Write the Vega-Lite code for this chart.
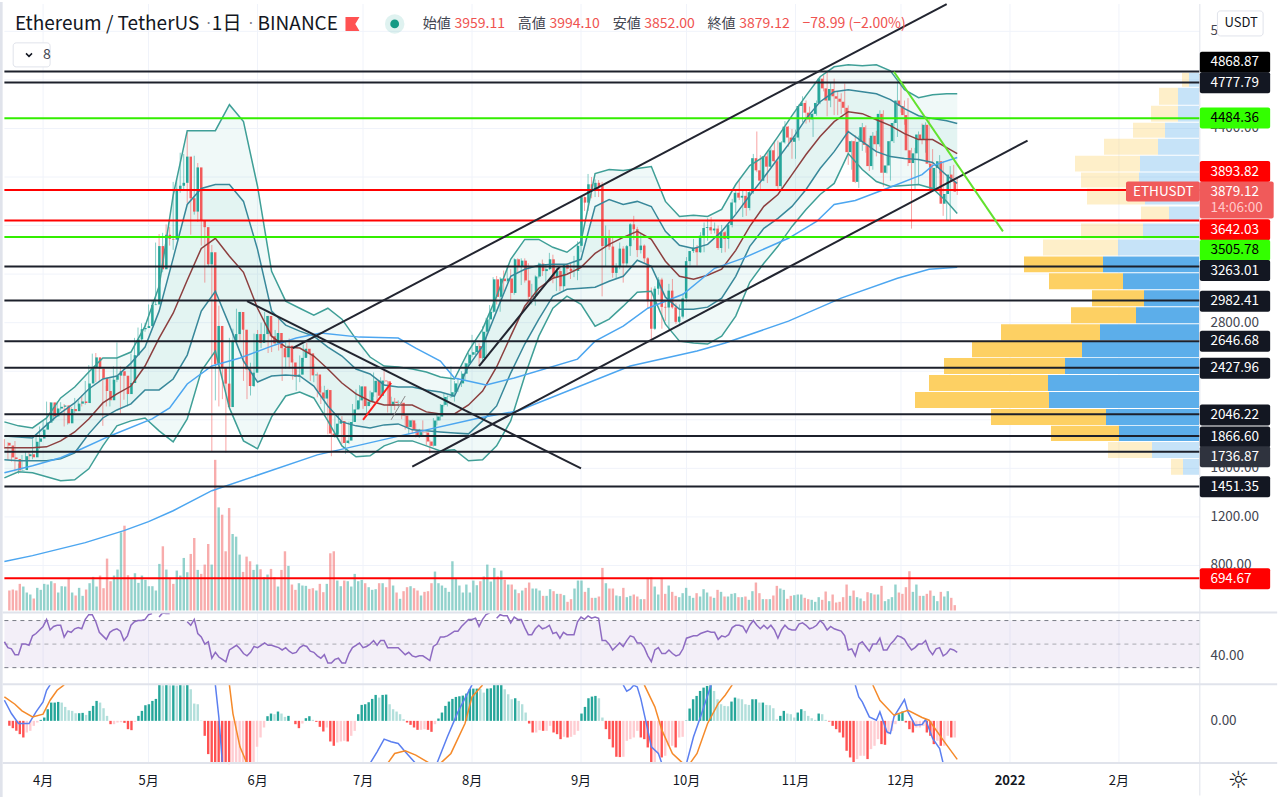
{"$schema":"https://vega.github.io/schema/vega-lite/v6.json","width":1280,"height":797,"padding":0,"autosize":{"type":"fit","contains":"padding"},"background":"#ffffff",
"config":{"view":{"stroke":null},"axis":{"disable":true},"legend":{"disable":true},"text":{"font":"Noto Sans CJK JP"}},
"resolve":{"scale":{"x":"independent","y":"independent","color":"independent"}},
"datasets":{
"one":[{}],
"grid":[{"p":800},{"p":1200},{"p":1600},{"p":2000},{"p":2400},{"p":2800},{"p":3200},{"p":3600},{"p":4000},{"p":4400},{"p":4800},{"p":5200}],
"months":[{"d":"2021-04-01","t":"4月"},{"d":"2021-05-01","t":"5月"},{"d":"2021-06-01","t":"6月"},{"d":"2021-07-01","t":"7月"},{"d":"2021-08-01","t":"8月"},{"d":"2021-09-01","t":"9月"},{"d":"2021-10-01","t":"10月"},{"d":"2021-11-01","t":"11月"},{"d":"2021-12-01","t":"12月"},{"d":"2022-01-01","t":"2022"},{"d":"2022-02-01","t":"2月"}],
"levels":[{"price":4868.87,"k":"black","tag":4946},{"price":4777.79,"k":"black","tag":4776},{"price":4484.36,"k":"green","tag":4486},{"price":3893.82,"k":"red","tag":4045},{"price":3642.03,"k":"red","tag":3566},{"price":3505.78,"k":"green","tag":3396},{"price":3263.01,"k":"black","tag":3229},{"price":2982.41,"k":"black","tag":2977},{"price":2646.68,"k":"black","tag":2646},{"price":2427.96,"k":"black","tag":2424},{"price":2046.22,"k":"black","tag":2040},{"price":1866.6,"k":"black","tag":1859},{"price":1736.87,"k":"black","tag":1695},{"price":1451.35,"k":"black","tag":1448},{"price":694.67,"k":"red","tag":690}],
"vp":[{"hi":4858,"lo":4743,"buy":10,"total":17},{"hi":4735,"lo":4595,"buy":21,"total":40},{"hi":4587,"lo":4456,"buy":21,"total":48},{"hi":4447,"lo":4324,"buy":34,"total":66},{"hi":4316,"lo":4184,"buy":41,"total":95},{"hi":4176,"lo":4045,"buy":59,"total":124},{"hi":4037,"lo":3913,"buy":60,"total":118},{"hi":3905,"lo":3773,"buy":54,"total":112},{"hi":3757,"lo":3634,"buy":30,"total":58},{"hi":3617,"lo":3494,"buy":56,"total":118},{"hi":3486,"lo":3354,"buy":81,"total":156},{"hi":3346,"lo":3215,"buy":96,"total":175},{"hi":3207,"lo":3075,"buy":76,"total":150},{"hi":3067,"lo":2935,"buy":55,"total":107},{"hi":2927,"lo":2796,"buy":63,"total":128},{"hi":2788,"lo":2656,"buy":99,"total":198},{"hi":2640,"lo":2516,"buy":117,"total":227},{"hi":2508,"lo":2377,"buy":134,"total":255},{"hi":2369,"lo":2237,"buy":151,"total":270},{"hi":2229,"lo":2097,"buy":150,"total":284},{"hi":2089,"lo":1958,"buy":93,"total":208},{"hi":1950,"lo":1826,"buy":80,"total":148},{"hi":1818,"lo":1686,"buy":47,"total":91},{"hi":1678,"lo":1547,"buy":16,"total":28}],
"trends":[{"id":"t1","k":"black","d":"2021-06-11","p":2590},{"id":"t1","k":"black","d":"2021-12-14","p":5425},{"id":"t2","k":"black","d":"2021-07-15","p":1615},{"id":"t2","k":"black","d":"2022-01-06","p":4300},{"id":"t3","k":"black","d":"2021-05-29","p":2977},{"id":"t3","k":"black","d":"2021-09-01","p":1599},{"id":"t4","k":"black","d":"2021-08-03","p":2443},{"id":"t4","k":"black","d":"2021-08-26","p":3264},{"id":"t5","k":"red","d":"2021-07-01","p":2000},{"id":"t5","k":"red","d":"2021-07-09","p":2303},{"id":"t6","k":"green","d":"2021-11-29","p":4867},{"id":"t6","k":"green","d":"2021-12-30","p":3552},{"id":"t7","k":"gray","d":"2021-07-09","p":2000},{"id":"t7","k":"gray","d":"2021-07-13","p":2196}],
"mas":[{"n":"a","d":"2021-03-21","p":832},{"n":"a","d":"2021-03-29","p":881},{"n":"a","d":"2021-04-13","p":988},{"n":"a","d":"2021-04-24","p":1087},{"n":"a","d":"2021-05-01","p":1161},{"n":"a","d":"2021-05-08","p":1251},{"n":"a","d":"2021-05-19","p":1416},{"n":"a","d":"2021-06-18","p":1711},{"n":"a","d":"2021-07-09","p":1851},{"n":"a","d":"2021-08-03","p":2015},{"n":"a","d":"2021-08-14","p":2073},{"n":"a","d":"2021-09-15","p":2443},{"n":"a","d":"2021-10-04","p":2566},{"n":"a","d":"2021-10-12","p":2632},{"n":"a","d":"2021-10-30","p":2813},{"n":"a","d":"2021-11-14","p":3002},{"n":"a","d":"2021-11-30","p":3166},{"n":"a","d":"2021-12-09","p":3240},{"n":"a","d":"2021-12-17","p":3256},
{"n":"b","d":"2021-03-21","p":1564},{"n":"b","d":"2021-03-29","p":1621},{"n":"b","d":"2021-04-06","p":1687},{"n":"b","d":"2021-04-12","p":1761},{"n":"b","d":"2021-04-20","p":1867},{"n":"b","d":"2021-05-02","p":2007},{"n":"b","d":"2021-05-07","p":2098},{"n":"b","d":"2021-05-12","p":2295},{"n":"b","d":"2021-05-19","p":2443},{"n":"b","d":"2021-05-27","p":2509},{"n":"b","d":"2021-06-05","p":2607},{"n":"b","d":"2021-06-12","p":2673},{"n":"b","d":"2021-06-19","p":2714},{"n":"b","d":"2021-06-30","p":2681},{"n":"b","d":"2021-07-11","p":2673},{"n":"b","d":"2021-07-16","p":2591},{"n":"b","d":"2021-07-23","p":2484},{"n":"b","d":"2021-07-27","p":2344},{"n":"b","d":"2021-08-05","p":2287},{"n":"b","d":"2021-08-13","p":2344},{"n":"b","d":"2021-08-31","p":2500},{"n":"b","d":"2021-09-05","p":2648},{"n":"b","d":"2021-09-13","p":2771},{"n":"b","d":"2021-09-20","p":2919},{"n":"b","d":"2021-09-30","p":3034},{"n":"b","d":"2021-10-09","p":3248},{"n":"b","d":"2021-10-17","p":3330},{"n":"b","d":"2021-10-30","p":3495},{"n":"b","d":"2021-11-07","p":3634},{"n":"b","d":"2021-11-12","p":3774},{"n":"b","d":"2021-11-18","p":3807},{"n":"b","d":"2021-11-27","p":3905},{"n":"b","d":"2021-12-07","p":4020},{"n":"b","d":"2021-12-10","p":4094},{"n":"b","d":"2021-12-17","p":4160}],
"macd":[{"n":"m","s":1,"d":"2021-03-21","u":62},{"n":"m","s":1,"d":"2021-03-23","u":22},{"n":"m","s":1,"d":"2021-03-25","u":-8},{"n":"m","s":1,"d":"2021-03-28","u":-8},{"n":"m","s":1,"d":"2021-03-30","u":27},{"n":"m","s":1,"d":"2021-04-01","u":57},{"n":"m","s":1,"d":"2021-04-02","u":92},{"n":"m","s":1,"d":"2021-04-03","u":108},
{"n":"o","s":1,"d":"2021-03-21","u":72},{"n":"o","s":1,"d":"2021-03-24","u":50},{"n":"o","s":1,"d":"2021-03-26","u":30},{"n":"o","s":1,"d":"2021-03-29","u":12},{"n":"o","s":1,"d":"2021-04-01","u":20},{"n":"o","s":1,"d":"2021-04-03","u":62},{"n":"o","s":1,"d":"2021-04-05","u":92},{"n":"o","s":1,"d":"2021-04-07","u":108},
{"n":"m","s":2,"d":"2021-05-20","u":108},{"n":"m","s":2,"d":"2021-05-21","u":10},{"n":"m","s":2,"d":"2021-05-22","u":-128},
{"n":"o","s":2,"d":"2021-05-24","u":108},{"n":"o","s":2,"d":"2021-05-25","u":22},{"n":"o","s":2,"d":"2021-05-27","u":-78},{"n":"o","s":2,"d":"2021-05-29","u":-128},
{"n":"m","s":3,"d":"2021-07-03","u":-128},{"n":"m","s":3,"d":"2021-07-05","u":-93},{"n":"m","s":3,"d":"2021-07-07","u":-55},{"n":"m","s":3,"d":"2021-07-09","u":-63},{"n":"m","s":3,"d":"2021-07-11","u":-68},{"n":"m","s":3,"d":"2021-07-13","u":-93},{"n":"m","s":3,"d":"2021-07-16","u":-128},
{"n":"o","s":3,"d":"2021-07-08","u":-128},{"n":"o","s":3,"d":"2021-07-10","u":-98},{"n":"o","s":3,"d":"2021-07-13","u":-90},{"n":"o","s":3,"d":"2021-07-16","u":-103},{"n":"o","s":3,"d":"2021-07-20","u":-128},
{"n":"m","s":4,"d":"2021-07-22","u":-128},{"n":"m","s":4,"d":"2021-07-25","u":-48},{"n":"m","s":4,"d":"2021-07-28","u":27},{"n":"m","s":4,"d":"2021-08-01","u":108},
{"n":"o","s":4,"d":"2021-07-23","u":-128},{"n":"o","s":4,"d":"2021-07-26","u":-98},{"n":"o","s":4,"d":"2021-07-30","u":-8},{"n":"o","s":4,"d":"2021-08-01","u":72},{"n":"o","s":4,"d":"2021-08-04","u":108},
{"n":"m","s":5,"d":"2021-09-13","u":108},{"n":"m","s":5,"d":"2021-09-14","u":89},{"n":"m","s":5,"d":"2021-09-15","u":95},{"n":"m","s":5,"d":"2021-09-16","u":107},{"n":"m","s":5,"d":"2021-09-17","u":102},{"n":"m","s":5,"d":"2021-09-18","u":67},{"n":"m","s":5,"d":"2021-09-20","u":-28},{"n":"m","s":5,"d":"2021-09-21","u":-78},{"n":"m","s":5,"d":"2021-09-23","u":-98},{"n":"m","s":5,"d":"2021-09-24","u":-128},
{"n":"o","s":5,"d":"2021-09-19","u":108},{"n":"o","s":5,"d":"2021-09-22","u":42},{"n":"o","s":5,"d":"2021-09-24","u":-28},{"n":"o","s":5,"d":"2021-09-27","u":-98},{"n":"o","s":5,"d":"2021-09-30","u":-128},
{"n":"m","s":6,"d":"2021-10-01","u":-128},{"n":"m","s":6,"d":"2021-10-03","u":-48},{"n":"m","s":6,"d":"2021-10-05","u":12},{"n":"m","s":6,"d":"2021-10-08","u":108},
{"n":"o","s":6,"d":"2021-10-02","u":-128},{"n":"o","s":6,"d":"2021-10-04","u":-98},{"n":"o","s":6,"d":"2021-10-07","u":-8},{"n":"o","s":6,"d":"2021-10-10","u":52},{"n":"o","s":6,"d":"2021-10-12","u":77},{"n":"o","s":6,"d":"2021-10-14","u":108},
{"n":"m","s":7,"d":"2021-11-18","u":108},{"n":"m","s":7,"d":"2021-11-19","u":72},{"n":"m","s":7,"d":"2021-11-20","u":57},{"n":"m","s":7,"d":"2021-11-22","u":12},{"n":"m","s":7,"d":"2021-11-24","u":2},{"n":"m","s":7,"d":"2021-11-25","u":27},{"n":"m","s":7,"d":"2021-11-27","u":-33},{"n":"m","s":7,"d":"2021-11-28","u":-38},{"n":"m","s":7,"d":"2021-11-29","u":12},{"n":"m","s":7,"d":"2021-12-02","u":64},{"n":"m","s":7,"d":"2021-12-03","u":27},{"n":"m","s":7,"d":"2021-12-05","u":-13},{"n":"m","s":7,"d":"2021-12-07","u":-11},{"n":"m","s":7,"d":"2021-12-08","u":4},{"n":"m","s":7,"d":"2021-12-10","u":-53},{"n":"m","s":7,"d":"2021-12-12","u":-83},{"n":"m","s":7,"d":"2021-12-13","u":-128},
{"n":"o","s":7,"d":"2021-11-23","u":108},{"n":"o","s":7,"d":"2021-11-25","u":62},{"n":"o","s":7,"d":"2021-11-29","u":17},{"n":"o","s":7,"d":"2021-12-03","u":32},{"n":"o","s":7,"d":"2021-12-07","u":10},{"n":"o","s":7,"d":"2021-12-09","u":2},{"n":"o","s":7,"d":"2021-12-13","u":-58},{"n":"o","s":7,"d":"2021-12-17","u":-116}],
"bands":[{"d":"2021-03-21","ou":1983,"iu":1867,"mid":1769,"il":1670,"ol":1522},{"d":"2021-03-25","ou":1950,"iu":1859,"mid":1769,"il":1662,"ol":1572},{"d":"2021-03-29","ou":1933,"iu":1851,"mid":1769,"il":1662,"ol":1564},{"d":"2021-04-02","ou":2015,"iu":1958,"mid":1777,"il":1662,"ol":1531},{"d":"2021-04-06","ou":2180,"iu":2057,"mid":1826,"il":1679,"ol":1498},{"d":"2021-04-10","ou":2270,"iu":2139,"mid":1900,"il":1728,"ol":1506},{"d":"2021-04-14","ou":2393,"iu":2254,"mid":2007,"il":1884,"ol":1596},{"d":"2021-04-18","ou":2509,"iu":2336,"mid":2139,"il":2015,"ol":1785},{"d":"2021-04-22","ou":2509,"iu":2361,"mid":2213,"il":2081,"ol":1950},{"d":"2021-04-26","ou":2558,"iu":2467,"mid":2278,"il":2131,"ol":1991},{"d":"2021-04-30","ou":2771,"iu":2599,"mid":2443,"il":2246,"ol":2015},{"d":"2021-05-04","ou":3100,"iu":2895,"mid":2673,"il":2246,"ol":1909},{"d":"2021-05-08","ou":3848,"iu":3330,"mid":2878,"il":2336,"ol":1818},{"d":"2021-05-12","ou":4382,"iu":3774,"mid":3149,"il":2533,"ol":2007},{"d":"2021-05-16","ou":4382,"iu":3905,"mid":3412,"il":2895,"ol":2402},{"d":"2021-05-20","ou":4382,"iu":3938,"mid":3495,"il":3059,"ol":2566},{"d":"2021-05-24","ou":4596,"iu":3938,"mid":3347,"il":2780,"ol":2098},{"d":"2021-05-28","ou":4456,"iu":3799,"mid":3215,"il":2484,"ol":1826},{"d":"2021-06-01","ou":3922,"iu":3404,"mid":2919,"il":2311,"ol":1761},{"d":"2021-06-05","ou":3223,"iu":2895,"mid":2689,"il":2361,"ol":2024},{"d":"2021-06-09","ou":2977,"iu":2780,"mid":2599,"il":2369,"ol":2196},{"d":"2021-06-13","ou":2919,"iu":2730,"mid":2591,"il":2361,"ol":2229},{"d":"2021-06-17","ou":2862,"iu":2689,"mid":2525,"il":2278,"ol":2180},{"d":"2021-06-21","ou":2919,"iu":2599,"mid":2418,"il":2114,"ol":1991},{"d":"2021-06-25","ou":2829,"iu":2525,"mid":2303,"il":1983,"ol":1785},{"d":"2021-06-29","ou":2665,"iu":2418,"mid":2213,"il":1950,"ol":1695},{"d":"2021-07-03","ou":2517,"iu":2377,"mid":2155,"il":1933,"ol":1703},{"d":"2021-07-07","ou":2443,"iu":2287,"mid":2122,"il":1958,"ol":1785},{"d":"2021-07-11","ou":2435,"iu":2270,"mid":2122,"il":1966,"ol":1826},{"d":"2021-07-15","ou":2418,"iu":2270,"mid":2122,"il":1917,"ol":1826},{"d":"2021-07-19","ou":2393,"iu":2246,"mid":2065,"il":1909,"ol":1785},{"d":"2021-07-23","ou":2352,"iu":2229,"mid":2048,"il":1900,"ol":1744},{"d":"2021-07-27","ou":2336,"iu":2196,"mid":2048,"il":1892,"ol":1753},{"d":"2021-07-31","ou":2566,"iu":2443,"mid":2122,"il":1884,"ol":1662},{"d":"2021-08-04","ou":2747,"iu":2607,"mid":2237,"il":1991,"ol":1670},{"d":"2021-08-08","ou":3018,"iu":2895,"mid":2435,"il":2114,"ol":1785},{"d":"2021-08-12","ou":3322,"iu":3182,"mid":2689,"il":2385,"ol":1991},{"d":"2021-08-16","ou":3486,"iu":3240,"mid":2936,"il":2624,"ol":2361},{"d":"2021-08-20","ou":3486,"iu":3273,"mid":3084,"il":2829,"ol":2689},{"d":"2021-08-24","ou":3421,"iu":3281,"mid":3166,"il":3018,"ol":2919},{"d":"2021-08-28","ou":3380,"iu":3281,"mid":3199,"il":3075,"ol":3018},{"d":"2021-09-01","ou":3470,"iu":3322,"mid":3256,"il":3084,"ol":2952},{"d":"2021-09-05","ou":4029,"iu":3757,"mid":3371,"il":3092,"ol":2771},{"d":"2021-09-09","ou":4062,"iu":3815,"mid":3445,"il":3141,"ol":2829},{"d":"2021-09-13","ou":4053,"iu":3774,"mid":3503,"il":3182,"ol":2936},{"d":"2021-09-17","ou":4070,"iu":3799,"mid":3552,"il":3314,"ol":3051},{"d":"2021-09-21","ou":4086,"iu":3757,"mid":3486,"il":3264,"ol":3059},{"d":"2021-09-25","ou":3799,"iu":3552,"mid":3306,"il":3010,"ol":2788},{"d":"2021-09-29","ou":3675,"iu":3437,"mid":3182,"il":2911,"ol":2648},{"d":"2021-10-03","ou":3684,"iu":3412,"mid":3158,"il":2911,"ol":2632},{"d":"2021-10-07","ou":3675,"iu":3445,"mid":3191,"il":2928,"ol":2624},{"d":"2021-10-11","ou":3733,"iu":3552,"mid":3240,"il":3002,"ol":2689},{"d":"2021-10-15","ou":3938,"iu":3692,"mid":3396,"il":3182,"ol":2854},{"d":"2021-10-19","ou":4094,"iu":3848,"mid":3593,"il":3429,"ol":3133},{"d":"2021-10-23","ou":4168,"iu":3996,"mid":3758,"il":3577,"ol":3289},{"d":"2021-10-27","ou":4333,"iu":4152,"mid":3856,"il":3659,"ol":3429},{"d":"2021-10-31","ou":4505,"iu":4308,"mid":4020,"il":3758,"ol":3593},{"d":"2021-11-04","ou":4670,"iu":4481,"mid":4185,"il":3897,"ol":3733},{"d":"2021-11-08","ou":4826,"iu":4620,"mid":4333,"il":4070,"ol":3856},{"d":"2021-11-12","ou":4908,"iu":4702,"mid":4456,"il":4209,"ol":3947},{"d":"2021-11-16","ou":4924,"iu":4719,"mid":4538,"il":4374,"ol":4193},{"d":"2021-11-20","ou":4916,"iu":4702,"mid":4522,"il":4292,"ol":4062},{"d":"2021-11-24","ou":4924,"iu":4686,"mid":4472,"il":4209,"ol":3963},{"d":"2021-11-28","ou":4875,"iu":4637,"mid":4423,"il":4168,"ol":3922},{"d":"2021-12-02","ou":4719,"iu":4563,"mid":4357,"il":4152,"ol":3930},{"d":"2021-12-06","ou":4653,"iu":4505,"mid":4308,"il":4144,"ol":3938},{"d":"2021-12-10","ou":4678,"iu":4481,"mid":4308,"il":4119,"ol":3905},{"d":"2021-12-14","ou":4686,"iu":4464,"mid":4242,"il":4012,"ol":3799},{"d":"2021-12-17","ou":4686,"iu":4440,"mid":4193,"il":3947,"ol":3700}],
"labels":[{"g":"title","t":"Ethereum / TetherUS","d":"2021-03-24","p":5261},{"g":"dot","t":"·","d":"2021-05-17","p":5261},{"g":"title","t":"1日","d":"2021-05-19","p":5261},{"g":"dot","t":"·","d":"2021-05-29","p":5261},{"g":"title","t":"BINANCE","d":"2021-06-01","p":5261},
{"g":"stat","t":"始値","d":"2021-07-18","p":5261},{"g":"val","t":"3959.11","d":"2021-07-27","p":5261},{"g":"stat","t":"高値","d":"2021-08-14","p":5261},{"g":"val","t":"3994.10","d":"2021-08-23","p":5261},{"g":"stat","t":"安値","d":"2021-09-10","p":5261},{"g":"val","t":"3852.00","d":"2021-09-19","p":5261},{"g":"stat","t":"終値","d":"2021-10-07","p":5261},{"g":"val","t":"3879.12","d":"2021-10-16","p":5261},{"g":"val","t":"−78.99 (−2.00%)","d":"2021-11-03","p":5261},{"g":"stat","t":"8","d":"2021-04-01","p":5006}],
"days":[
{"d":"2021-03-21","o":1810,"h":1840,"l":1762,"c":1788,"v":60,"r":52,"m":-15},{"d":"2021-03-22","o":1788,"h":1815,"l":1668,"c":1690,"v":63,"r":47,"m":-22},{"d":"2021-03-23","o":1690,"h":1725,"l":1655,"c":1677,"v":60,"r":46,"m":-30},{"d":"2021-03-24","o":1677,"h":1825,"l":1575,"c":1583,"v":80,"r":41,"m":-40},{"d":"2021-03-25","o":1583,"h":1640,"l":1555,"c":1586,"v":72,"r":41,"m":-50},{"d":"2021-03-26","o":1586,"h":1710,"l":1580,"c":1700,"v":54,"r":50,"m":-35},{"d":"2021-03-27","o":1700,"h":1740,"l":1665,"c":1716,"v":48,"r":50,"m":-30},{"d":"2021-03-28","o":1716,"h":1730,"l":1670,"c":1691,"v":36,"r":49,"m":-15},{"d":"2021-03-29","o":1691,"h":1840,"l":1675,"c":1819,"v":68,"r":57,"m":-5},{"d":"2021-03-30","o":1819,"h":1860,"l":1775,"c":1846,"v":62,"r":59,"m":3},{"d":"2021-03-31","o":1846,"h":1945,"l":1760,"c":1919,"v":80,"r":62,"m":10},
{"d":"2021-04-01","o":1919,"h":1990,"l":1900,"c":1977,"v":78,"r":65,"m":35},{"d":"2021-04-02","o":1977,"h":2150,"l":1960,"c":2143,"v":88,"r":71,"m":55},{"d":"2021-04-03","o":2143,"h":2145,"l":2010,"c":2028,"v":82,"r":62,"m":55},{"d":"2021-04-04","o":2028,"h":2100,"l":1990,"c":2093,"v":54,"r":65,"m":57},{"d":"2021-04-05","o":2093,"h":2150,"l":2050,"c":2107,"v":73,"r":66,"m":55},{"d":"2021-04-06","o":2107,"h":2145,"l":2075,"c":2118,"v":72,"r":66,"m":42},{"d":"2021-04-07","o":2118,"h":2130,"l":1945,"c":1971,"v":98,"r":56,"m":32},{"d":"2021-04-08","o":1971,"h":2100,"l":1960,"c":2089,"v":54,"r":61,"m":30},{"d":"2021-04-09","o":2089,"h":2105,"l":2055,"c":2071,"v":45,"r":60,"m":23},{"d":"2021-04-10","o":2071,"h":2180,"l":2055,"c":2133,"v":68,"r":63,"m":23},{"d":"2021-04-11","o":2133,"h":2160,"l":2110,"c":2151,"v":44,"r":64,"m":24},{"d":"2021-04-12","o":2151,"h":2200,"l":2110,"c":2138,"v":63,"r":63,"m":18},{"d":"2021-04-13","o":2138,"h":2320,"l":2125,"c":2299,"v":82,"r":71,"m":30},{"d":"2021-04-14","o":2299,"h":2450,"l":2265,"c":2432,"v":101,"r":75,"m":45},{"d":"2021-04-15","o":2432,"h":2545,"l":2400,"c":2514,"v":72,"r":75,"m":60},{"d":"2021-04-16","o":2514,"h":2550,"l":2310,"c":2422,"v":105,"r":69,"m":55},{"d":"2021-04-17","o":2422,"h":2495,"l":2310,"c":2345,"v":67,"r":60,"m":38},{"d":"2021-04-18","o":2345,"h":2355,"l":1950,"c":2237,"v":156,"r":57,"m":15},{"d":"2021-04-19","o":2237,"h":2280,"l":2110,"c":2161,"v":88,"r":54,"m":-10},{"d":"2021-04-20","o":2161,"h":2340,"l":2110,"c":2330,"v":105,"r":60,"m":-10},{"d":"2021-04-21","o":2330,"h":2440,"l":2295,"c":2364,"v":123,"r":62,"m":-5},{"d":"2021-04-22","o":2364,"h":2637,"l":2310,"c":2400,"v":235,"r":63,"m":-4},{"d":"2021-04-23","o":2400,"h":2440,"l":2050,"c":2363,"v":255,"r":61,"m":-6},{"d":"2021-04-24","o":2363,"h":2375,"l":2165,"c":2212,"v":106,"r":53,"m":-25},{"d":"2021-04-25","o":2212,"h":2355,"l":2110,"c":2303,"v":98,"r":57,"m":-28},{"d":"2021-04-26","o":2303,"h":2545,"l":2295,"c":2532,"v":112,"r":66,"m":-3},{"d":"2021-04-27","o":2532,"h":2675,"l":2500,"c":2662,"v":83,"r":69,"m":15},{"d":"2021-04-28","o":2662,"h":2760,"l":2575,"c":2746,"v":105,"r":70,"m":30},{"d":"2021-04-29","o":2746,"h":2795,"l":2645,"c":2756,"v":92,"r":70,"m":47},{"d":"2021-04-30","o":2756,"h":2798,"l":2725,"c":2772,"v":73,"r":71,"m":50},
{"d":"2021-05-01","o":2772,"h":2950,"l":2760,"c":2945,"v":73,"r":75,"m":60},{"d":"2021-05-02","o":2945,"h":2985,"l":2850,"c":2950,"v":60,"r":76,"m":66},{"d":"2021-05-03","o":2950,"h":3460,"l":2945,"c":3431,"v":140,"m":108},{"d":"2021-05-04","o":3431,"h":3530,"l":3160,"c":3240,"v":193,"r":73,"m":107},{"d":"2021-05-05","o":3240,"h":3540,"l":3215,"c":3524,"v":123,"r":76.5,"m":108},{"d":"2021-05-06","o":3524,"h":3610,"l":3360,"c":3490,"v":98,"r":76,"m":107},{"d":"2021-05-07","o":3490,"h":3590,"l":3435,"c":3484,"v":80,"r":76,"m":107},{"d":"2021-05-08","o":3484,"h":3960,"l":3400,"c":3902,"v":120,"m":106},{"d":"2021-05-09","o":3902,"h":3985,"l":3725,"c":3928,"v":105,"m":108},{"d":"2021-05-10","o":3928,"h":4200,"l":3870,"c":3952,"v":158,"m":107},{"d":"2021-05-11","o":3952,"h":4190,"l":3890,"c":4168,"v":115,"m":108},{"d":"2021-05-12","o":4168,"h":4372,"l":3785,"c":3825,"v":170,"r":69,"m":95},{"d":"2021-05-13","o":3825,"h":4150,"l":3525,"c":3715,"v":218,"r":66,"m":52},{"d":"2021-05-14","o":3715,"h":4175,"l":3690,"c":4079,"v":122,"r":71,"m":50},{"d":"2021-05-15","o":4079,"h":4115,"l":3630,"c":3640,"v":110,"r":59,"m":1},{"d":"2021-05-16","o":3640,"h":3885,"l":3435,"c":3587,"v":138,"r":56,"m":-45},{"d":"2021-05-17","o":3587,"h":3590,"l":3130,"c":3281,"v":200,"r":50,"m":-100},{"d":"2021-05-18","o":3281,"h":3565,"l":3265,"c":3380,"v":138,"r":52,"m":-125},{"d":"2021-05-19","o":3380,"h":3440,"l":1736,"c":2460,"v":453,"r":38,"m":-126},{"d":"2021-05-20","o":2460,"h":2975,"l":2160,"c":2773,"v":310,"r":43,"m":-127},{"d":"2021-05-21","o":2773,"h":2940,"l":2110,"c":2430,"v":288,"r":39,"m":-128},{"d":"2021-05-22","o":2430,"h":2490,"l":2170,"c":2298,"v":178,"r":37,"m":-129},{"d":"2021-05-23","o":2298,"h":2380,"l":1730,"c":2105,"v":308,"r":35,"m":-130},{"d":"2021-05-24","o":2105,"h":2675,"l":2100,"c":2643,"v":230,"r":45,"m":-129},{"d":"2021-05-25","o":2643,"h":2750,"l":2395,"c":2706,"v":222,"r":47,"m":-128},{"d":"2021-05-26","o":2706,"h":2915,"l":2680,"c":2888,"v":168,"r":49,"m":-127},{"d":"2021-05-27","o":2888,"h":2890,"l":2650,"c":2742,"v":116,"r":46,"m":-126},{"d":"2021-05-28","o":2742,"h":2760,"l":2320,"c":2415,"v":162,"r":42,"m":-127},{"d":"2021-05-29","o":2415,"h":2470,"l":2170,"c":2278,"v":148,"r":40,"m":-128},{"d":"2021-05-30","o":2278,"h":2470,"l":2200,"c":2388,"v":122,"r":43,"m":-127},{"d":"2021-05-31","o":2388,"h":2710,"l":2270,"c":2706,"v":138,"r":48,"m":-78},
{"d":"2021-06-01","o":2706,"h":2740,"l":2530,"c":2634,"v":124,"r":47,"m":-50},{"d":"2021-06-02","o":2634,"h":2800,"l":2590,"c":2706,"v":100,"r":49,"m":-20},{"d":"2021-06-03","o":2706,"h":2890,"l":2700,"c":2855,"v":108,"r":51,"m":14},{"d":"2021-06-04","o":2855,"h":2858,"l":2550,"c":2688,"v":125,"r":49,"m":22},{"d":"2021-06-05","o":2688,"h":2815,"l":2558,"c":2630,"v":100,"r":49,"m":20},{"d":"2021-06-06","o":2630,"h":2740,"l":2615,"c":2715,"v":72,"r":48,"m":28},{"d":"2021-06-07","o":2715,"h":2845,"l":2570,"c":2590,"v":122,"r":47,"m":22},{"d":"2021-06-08","o":2590,"h":2620,"l":2320,"c":2515,"v":178,"r":45,"m":12},{"d":"2021-06-09","o":2515,"h":2640,"l":2420,"c":2610,"v":134,"r":47,"m":15},{"d":"2021-06-10","o":2610,"h":2670,"l":2420,"c":2472,"v":78,"r":44,"m":0},{"d":"2021-06-11","o":2472,"h":2500,"l":2330,"c":2354,"v":62,"r":42,"m":-10},{"d":"2021-06-12","o":2354,"h":2410,"l":2240,"c":2372,"v":82,"r":43,"m":-22},{"d":"2021-06-13","o":2372,"h":2530,"l":2310,"c":2510,"v":75,"r":47,"m":-8},{"d":"2021-06-14","o":2510,"h":2620,"l":2475,"c":2585,"v":74,"r":49,"m":8},{"d":"2021-06-15","o":2585,"h":2635,"l":2520,"c":2547,"v":65,"r":48,"m":14},{"d":"2021-06-16","o":2547,"h":2555,"l":2320,"c":2366,"v":67,"r":44,"m":3},{"d":"2021-06-17","o":2366,"h":2460,"l":2310,"c":2373,"v":60,"r":43,"m":-3},{"d":"2021-06-18","o":2373,"h":2390,"l":2185,"c":2225,"v":80,"r":40,"m":-18},{"d":"2021-06-19","o":2225,"h":2275,"l":2130,"c":2175,"v":55,"r":38,"m":-32},{"d":"2021-06-20","o":2175,"h":2280,"l":2040,"c":2245,"v":80,"r":41,"m":-20},{"d":"2021-06-21","o":2245,"h":2255,"l":1880,"c":1887,"v":172,"r":34,"m":-62},{"d":"2021-06-22","o":1887,"h":2040,"l":1700,"c":1875,"v":178,"r":34,"m":-75},{"d":"2021-06-23","o":1875,"h":2045,"l":1850,"c":1968,"v":90,"r":37,"m":-65},{"d":"2021-06-24","o":1968,"h":2040,"l":1885,"c":1990,"v":73,"r":38,"m":-62},{"d":"2021-06-25","o":1990,"h":2030,"l":1800,"c":1809,"v":90,"r":34,"m":-60},{"d":"2021-06-26","o":1809,"h":1865,"l":1720,"c":1829,"v":88,"r":34,"m":-62},{"d":"2021-06-27","o":1829,"h":1985,"l":1800,"c":1982,"v":72,"r":42,"m":-45},{"d":"2021-06-28","o":1982,"h":2130,"l":1965,"c":2085,"v":110,"r":47,"m":-30},{"d":"2021-06-29","o":2085,"h":2250,"l":2080,"c":2160,"v":88,"r":49,"m":20},{"d":"2021-06-30","o":2160,"h":2285,"l":2095,"c":2275,"v":92,"r":51,"m":48},
{"d":"2021-07-01","o":2275,"h":2275,"l":2090,"c":2113,"v":82,"r":47,"m":50},{"d":"2021-07-02","o":2113,"h":2165,"l":2030,"c":2150,"v":70,"r":48,"m":56},{"d":"2021-07-03","o":2150,"h":2240,"l":2130,"c":2226,"v":62,"r":50,"m":66},{"d":"2021-07-04","o":2226,"h":2390,"l":2190,"c":2321,"v":64,"r":53,"m":78},{"d":"2021-07-05","o":2321,"h":2325,"l":2160,"c":2198,"v":82,"r":49,"m":70},{"d":"2021-07-06","o":2198,"h":2350,"l":2190,"c":2323,"v":82,"r":53,"m":78},{"d":"2021-07-07","o":2323,"h":2410,"l":2300,"c":2317,"v":70,"r":53,"m":79},{"d":"2021-07-08","o":2317,"h":2320,"l":2060,"c":2117,"v":95,"r":47,"m":50},{"d":"2021-07-09","o":2117,"h":2190,"l":2050,"c":2149,"v":75,"r":47,"m":35},{"d":"2021-07-10","o":2149,"h":2180,"l":2080,"c":2138,"v":54,"r":47,"m":28},{"d":"2021-07-11","o":2138,"h":2160,"l":2110,"c":2140,"v":35,"r":47,"m":20},{"d":"2021-07-12","o":2140,"h":2150,"l":2005,"c":2035,"v":58,"r":44,"m":5},{"d":"2021-07-13","o":2035,"h":2040,"l":1920,"c":1940,"v":70,"r":41,"m":-5},{"d":"2021-07-14","o":1940,"h":2000,"l":1880,"c":1995,"v":73,"r":43,"m":-12},{"d":"2021-07-15","o":1995,"h":2000,"l":1890,"c":1916,"v":67,"r":40,"m":-20},{"d":"2021-07-16","o":1916,"h":1970,"l":1855,"c":1875,"v":60,"r":39,"m":-27},{"d":"2021-07-17","o":1875,"h":1925,"l":1850,"c":1898,"v":45,"r":40,"m":-27},{"d":"2021-07-18","o":1898,"h":1995,"l":1870,"c":1895,"v":56,"r":40,"m":-25},{"d":"2021-07-19","o":1895,"h":1900,"l":1790,"c":1821,"v":58,"r":38,"m":-27},{"d":"2021-07-20","o":1821,"h":1835,"l":1720,"c":1786,"v":82,"r":36,"m":-33},{"d":"2021-07-21","o":1786,"h":2015,"l":1780,"c":1994,"v":117,"r":48,"m":-10},{"d":"2021-07-22","o":1994,"h":2045,"l":1955,"c":2027,"v":82,"r":50,"m":7},{"d":"2021-07-23","o":2027,"h":2130,"l":1995,"c":2123,"v":75,"r":56,"m":25},{"d":"2021-07-24","o":2123,"h":2215,"l":2110,"c":2188,"v":68,"r":56,"m":45},{"d":"2021-07-25","o":2188,"h":2200,"l":2110,"c":2190,"v":56,"r":57,"m":58},{"d":"2021-07-26","o":2190,"h":2440,"l":2180,"c":2227,"v":148,"r":59,"m":66},{"d":"2021-07-27","o":2227,"h":2320,"l":2150,"c":2300,"v":95,"r":61,"m":72},{"d":"2021-07-28","o":2300,"h":2345,"l":2230,"c":2300,"v":75,"r":61,"m":74},{"d":"2021-07-29","o":2300,"h":2400,"l":2270,"c":2380,"v":54,"r":65,"m":76},{"d":"2021-07-30","o":2380,"h":2470,"l":2330,"c":2465,"v":78,"r":68,"m":82},{"d":"2021-07-31","o":2465,"h":2550,"l":2440,"c":2536,"v":54,"r":71,"m":96},
{"d":"2021-08-01","o":2536,"h":2700,"l":2515,"c":2557,"v":90,"r":71,"m":97},{"d":"2021-08-02","o":2557,"h":2665,"l":2530,"c":2608,"v":76,"r":72,"m":97},{"d":"2021-08-03","o":2608,"h":2630,"l":2450,"c":2508,"v":88,"r":65,"m":96},{"d":"2021-08-04","o":2508,"h":2770,"l":2475,"c":2725,"v":102,"r":71,"m":85},{"d":"2021-08-05","o":2725,"h":2840,"l":2525,"c":2827,"v":138,"r":75,"m":97},{"d":"2021-08-06","o":2827,"h":2945,"l":2735,"c":2890,"v":87,"r":76.5,"m":98},{"d":"2021-08-07","o":2890,"h":3175,"l":2880,"c":3157,"v":128,"m":108},{"d":"2021-08-08","o":3157,"h":3185,"l":2950,"c":3013,"v":102,"r":72,"m":108},{"d":"2021-08-09","o":3013,"h":3175,"l":2890,"c":3163,"v":120,"r":75,"m":108},{"d":"2021-08-10","o":3163,"h":3230,"l":3055,"c":3142,"v":92,"r":74,"m":95},{"d":"2021-08-11","o":3142,"h":3275,"l":3130,"c":3164,"v":78,"r":74,"m":80},{"d":"2021-08-12","o":3164,"h":3240,"l":2980,"c":3045,"v":78,"r":68,"m":65},{"d":"2021-08-13","o":3045,"h":3330,"l":3030,"c":3322,"v":63,"r":73,"m":68},{"d":"2021-08-14","o":3322,"h":3330,"l":3210,"c":3265,"v":52,"r":71,"m":60},{"d":"2021-08-15","o":3265,"h":3330,"l":3110,"c":3311,"v":60,"r":71,"m":50},{"d":"2021-08-16","o":3311,"h":3330,"l":3130,"c":3148,"v":68,"r":64,"m":25},{"d":"2021-08-17","o":3148,"h":3290,"l":2985,"c":3013,"v":84,"r":58,"m":-8},{"d":"2021-08-18","o":3013,"h":3120,"l":2950,"c":3022,"v":66,"r":58,"m":-35},{"d":"2021-08-19","o":3022,"h":3190,"l":2940,"c":3180,"v":66,"r":63,"m":-35},{"d":"2021-08-20","o":3180,"h":3295,"l":3165,"c":3287,"v":60,"r":66,"m":-28},{"d":"2021-08-21","o":3287,"h":3320,"l":3185,"c":3225,"v":44,"r":63,"m":-30},{"d":"2021-08-22","o":3225,"h":3280,"l":3115,"c":3241,"v":44,"r":64,"m":-30},{"d":"2021-08-23","o":3241,"h":3375,"l":3235,"c":3322,"v":64,"r":66,"m":-15},{"d":"2021-08-24","o":3322,"h":3360,"l":3125,"c":3173,"v":58,"r":59,"m":-35},{"d":"2021-08-25","o":3173,"h":3250,"l":3060,"c":3225,"v":50,"r":60,"m":-40},{"d":"2021-08-26","o":3225,"h":3250,"l":3060,"c":3100,"v":50,"r":55,"m":-55},{"d":"2021-08-27","o":3100,"h":3280,"l":3060,"c":3275,"v":46,"r":60,"m":-48},{"d":"2021-08-28","o":3275,"h":3290,"l":3210,"c":3245,"v":26,"r":58,"m":-50},{"d":"2021-08-29","o":3245,"h":3285,"l":3160,"c":3225,"v":34,"r":58,"m":-48},{"d":"2021-08-30","o":3225,"h":3350,"l":3175,"c":3226,"v":66,"r":58,"m":-42},{"d":"2021-08-31","o":3226,"h":3470,"l":3150,"c":3433,"v":90,"r":69,"m":-30},
{"d":"2021-09-01","o":3433,"h":3840,"l":3380,"c":3834,"v":90,"r":73,"m":22},{"d":"2021-09-02","o":3834,"h":3840,"l":3720,"c":3789,"v":56,"r":71,"m":42},{"d":"2021-09-03","o":3789,"h":4025,"l":3720,"c":3940,"v":68,"r":74,"m":68},{"d":"2021-09-04","o":3940,"h":4000,"l":3825,"c":3887,"v":38,"r":72,"m":73},{"d":"2021-09-05","o":3887,"h":3980,"l":3835,"c":3952,"v":38,"r":73,"m":75},{"d":"2021-09-06","o":3952,"h":3975,"l":3835,"c":3926,"v":42,"r":72,"m":68},{"d":"2021-09-07","o":3926,"h":3960,"l":3017,"c":3431,"v":128,"r":53,"m":10},{"d":"2021-09-08","o":3431,"h":3600,"l":3265,"c":3497,"v":82,"r":53,"m":-25},{"d":"2021-09-09","o":3497,"h":3565,"l":3400,"c":3427,"v":66,"r":50,"m":-55},{"d":"2021-09-10","o":3427,"h":3510,"l":3170,"c":3210,"v":66,"r":45,"m":-80},{"d":"2021-09-11","o":3210,"h":3290,"l":3160,"c":3265,"v":45,"r":48,"m":-108},{"d":"2021-09-12","o":3265,"h":3460,"l":3240,"c":3410,"v":43,"r":51,"m":-109},{"d":"2021-09-13","o":3410,"h":3430,"l":3130,"c":3288,"v":68,"r":48,"m":-108},{"d":"2021-09-14","o":3288,"h":3440,"l":3260,"c":3430,"v":40,"r":53,"m":-60},{"d":"2021-09-15","o":3430,"h":3620,"l":3350,"c":3610,"v":44,"r":57,"m":-55},{"d":"2021-09-16","o":3610,"h":3680,"l":3480,"c":3570,"v":48,"r":56,"m":-50},{"d":"2021-09-17","o":3570,"h":3590,"l":3340,"c":3398,"v":42,"r":51,"m":-30},{"d":"2021-09-18","o":3398,"h":3540,"l":3370,"c":3435,"v":34,"r":51,"m":-50},{"d":"2021-09-19","o":3435,"h":3445,"l":3290,"c":3330,"v":34,"r":47,"m":-55},{"d":"2021-09-20","o":3330,"h":3340,"l":2915,"c":2977,"v":98,"r":40,"m":-80},{"d":"2021-09-21","o":2977,"h":3090,"l":2650,"c":2750,"v":100,"r":35,"m":-128},{"d":"2021-09-22","o":2750,"h":3100,"l":2740,"c":3080,"v":72,"r":45,"m":-127},{"d":"2021-09-23","o":3080,"h":3175,"l":3030,"c":3155,"v":48,"r":47,"m":-100},{"d":"2021-09-24","o":3155,"h":3170,"l":2750,"c":2930,"v":98,"r":42,"m":-110},{"d":"2021-09-25","o":2930,"h":2975,"l":2815,"c":2925,"v":50,"r":42,"m":-105},{"d":"2021-09-26","o":2925,"h":3120,"l":2740,"c":3064,"v":75,"r":45,"m":-75},{"d":"2021-09-27","o":3064,"h":3160,"l":2915,"c":2926,"v":56,"r":42,"m":-75},{"d":"2021-09-28","o":2926,"h":2960,"l":2790,"c":2807,"v":44,"r":40,"m":-80},{"d":"2021-09-29","o":2807,"h":2950,"l":2790,"c":2850,"v":40,"r":41,"m":-50},{"d":"2021-09-30","o":2850,"h":3040,"l":2835,"c":3000,"v":52,"r":46,"m":-48},
{"d":"2021-10-01","o":3000,"h":3340,"l":2970,"c":3307,"v":68,"r":55,"m":1},{"d":"2021-10-02","o":3307,"h":3390,"l":3270,"c":3390,"v":44,"r":56,"m":37},{"d":"2021-10-03","o":3390,"h":3490,"l":3375,"c":3418,"v":38,"r":57,"m":65},{"d":"2021-10-04","o":3418,"h":3440,"l":3270,"c":3380,"v":52,"r":57,"m":75},{"d":"2021-10-05","o":3380,"h":3545,"l":3375,"c":3517,"v":42,"r":59,"m":90},{"d":"2021-10-06","o":3517,"h":3625,"l":3380,"c":3580,"v":64,"r":60,"m":100},{"d":"2021-10-07","o":3580,"h":3660,"l":3475,"c":3587,"v":54,"r":61,"m":105},{"d":"2021-10-08","o":3587,"h":3670,"l":3530,"c":3560,"v":42,"r":60,"m":108},{"d":"2021-10-09","o":3560,"h":3625,"l":3535,"c":3575,"v":38,"r":60,"m":90},{"d":"2021-10-10","o":3575,"h":3600,"l":3400,"c":3415,"v":62,"r":54,"m":65},{"d":"2021-10-11","o":3415,"h":3605,"l":3375,"c":3545,"v":56,"r":57,"m":50},{"d":"2021-10-12","o":3545,"h":3555,"l":3380,"c":3490,"v":42,"r":56,"m":45},{"d":"2021-10-13","o":3490,"h":3625,"l":3410,"c":3605,"v":42,"r":58,"m":44},{"d":"2021-10-14","o":3605,"h":3820,"l":3585,"c":3790,"v":50,"r":64,"m":58},{"d":"2021-10-15","o":3790,"h":3900,"l":3700,"c":3870,"v":52,"r":66,"m":70},{"d":"2021-10-16","o":3870,"h":3970,"l":3810,"c":3830,"v":40,"r":66,"m":67},{"d":"2021-10-17","o":3830,"h":3900,"l":3670,"c":3845,"v":40,"r":65,"m":65},{"d":"2021-10-18","o":3845,"h":3890,"l":3680,"c":3745,"v":42,"r":60,"m":50},{"d":"2021-10-19","o":3745,"h":3900,"l":3725,"c":3875,"v":32,"r":66,"m":48},{"d":"2021-10-20","o":3875,"h":4190,"l":3860,"c":4155,"v":58,"r":70,"m":65},{"d":"2021-10-21","o":4155,"h":4375,"l":4040,"c":4055,"v":84,"r":66,"m":65},{"d":"2021-10-22","o":4055,"h":4180,"l":3885,"c":3970,"v":52,"r":63,"m":55},{"d":"2021-10-23","o":3970,"h":4170,"l":3965,"c":4170,"v":34,"r":66,"m":55},{"d":"2021-10-24","o":4170,"h":4200,"l":3950,"c":4085,"v":34,"r":63,"m":48},{"d":"2021-10-25","o":4085,"h":4235,"l":4080,"c":4220,"v":34,"r":66,"m":47},{"d":"2021-10-26","o":4220,"h":4300,"l":4120,"c":4130,"v":45,"r":62,"m":38},{"d":"2021-10-27","o":4130,"h":4300,"l":3900,"c":3925,"v":74,"r":55,"m":5},{"d":"2021-10-28","o":3925,"h":4295,"l":3905,"c":4285,"v":66,"r":62,"m":15},{"d":"2021-10-29","o":4285,"h":4460,"l":4275,"c":4415,"v":62,"r":66,"m":30},{"d":"2021-10-30","o":4415,"h":4420,"l":4250,"c":4325,"v":35,"r":63,"m":22},{"d":"2021-10-31","o":4325,"h":4395,"l":4150,"c":4290,"v":44,"r":62,"m":20},
{"d":"2021-11-01","o":4290,"h":4390,"l":4150,"c":4325,"v":46,"r":62,"m":10},{"d":"2021-11-02","o":4325,"h":4600,"l":4300,"c":4585,"v":48,"r":67,"m":25},{"d":"2021-11-03","o":4585,"h":4665,"l":4450,"c":4610,"v":48,"r":68,"m":35},{"d":"2021-11-04","o":4610,"h":4630,"l":4440,"c":4530,"v":38,"r":66,"m":30},{"d":"2021-11-05","o":4530,"h":4580,"l":4450,"c":4475,"v":34,"r":63,"m":15},{"d":"2021-11-06","o":4475,"h":4530,"l":4330,"c":4520,"v":32,"r":64,"m":8},{"d":"2021-11-07","o":4520,"h":4630,"l":4505,"c":4610,"v":26,"r":66,"m":3},{"d":"2021-11-08","o":4610,"h":4820,"l":4600,"c":4810,"v":40,"r":70,"m":22},{"d":"2021-11-09","o":4810,"h":4840,"l":4705,"c":4730,"v":32,"r":67,"m":20},{"d":"2021-11-10","o":4730,"h":4868,"l":4500,"c":4630,"v":57,"r":62,"m":3},{"d":"2021-11-11","o":4630,"h":4780,"l":4575,"c":4725,"v":28,"r":65,"m":-2},{"d":"2021-11-12","o":4725,"h":4810,"l":4510,"c":4665,"v":48,"r":63,"m":-15},{"d":"2021-11-13","o":4665,"h":4700,"l":4510,"c":4645,"v":24,"r":62,"m":-25},{"d":"2021-11-14","o":4645,"h":4690,"l":4520,"c":4620,"v":26,"r":61,"m":-35},{"d":"2021-11-15","o":4620,"h":4770,"l":4530,"c":4570,"v":40,"r":57,"m":-50},{"d":"2021-11-16","o":4570,"h":4590,"l":4100,"c":4205,"v":78,"r":45,"m":-90},{"d":"2021-11-17","o":4205,"h":4300,"l":4060,"c":4295,"v":44,"r":46,"m":-110},{"d":"2021-11-18","o":4295,"h":4345,"l":3950,"c":3960,"v":60,"r":40,"m":-128},{"d":"2021-11-19","o":3960,"h":4340,"l":3910,"c":4290,"v":40,"r":50,"m":-115},{"d":"2021-11-20","o":4290,"h":4445,"l":4215,"c":4410,"v":36,"r":52,"m":-105},{"d":"2021-11-21","o":4410,"h":4425,"l":4200,"c":4265,"v":28,"r":48,"m":-105},{"d":"2021-11-22","o":4265,"h":4320,"l":4050,"c":4090,"v":55,"r":44,"m":-115},{"d":"2021-11-23","o":4090,"h":4370,"l":4060,"c":4340,"v":52,"r":50,"m":-85},{"d":"2021-11-24","o":4340,"h":4380,"l":4170,"c":4270,"v":48,"r":50,"m":-75},{"d":"2021-11-25","o":4270,"h":4550,"l":4250,"c":4520,"v":48,"r":55,"m":-55},{"d":"2021-11-26","o":4520,"h":4550,"l":3920,"c":4035,"v":74,"r":45,"m":-70},{"d":"2021-11-27","o":4035,"h":4180,"l":4030,"c":4095,"v":28,"r":45,"m":-72},{"d":"2021-11-28","o":4095,"h":4300,"l":3970,"c":4295,"v":34,"r":50,"m":-40},{"d":"2021-11-29","o":4295,"h":4460,"l":4280,"c":4445,"v":40,"r":53,"m":-30},{"d":"2021-11-30","o":4445,"h":4780,"l":4330,"c":4630,"v":78,"r":57,"m":-10},
{"d":"2021-12-01","o":4630,"h":4780,"l":4530,"c":4585,"v":54,"r":56,"m":20},{"d":"2021-12-02","o":4585,"h":4630,"l":4430,"c":4510,"v":50,"r":54,"m":28},{"d":"2021-12-03","o":4510,"h":4650,"l":4090,"c":4220,"v":70,"r":49,"m":-5},{"d":"2021-12-04","o":4220,"h":4240,"l":3575,"c":4115,"v":118,"r":45,"m":-25},{"d":"2021-12-05","o":4115,"h":4240,"l":3900,"c":4195,"v":56,"r":47,"m":-35},{"d":"2021-12-06","o":4195,"h":4375,"l":3935,"c":4350,"v":78,"r":50,"m":-20},{"d":"2021-12-07","o":4350,"h":4440,"l":4270,"c":4310,"v":44,"r":50,"m":-20},{"d":"2021-12-08","o":4310,"h":4450,"l":4200,"c":4430,"v":44,"r":53,"m":-15},{"d":"2021-12-09","o":4430,"h":4490,"l":4100,"c":4110,"v":50,"r":45,"m":-35},{"d":"2021-12-10","o":4110,"h":4230,"l":3880,"c":3890,"v":60,"r":41,"m":-45},{"d":"2021-12-11","o":3890,"h":4100,"l":3880,"c":4075,"v":44,"r":46,"m":-70},{"d":"2021-12-12","o":4075,"h":4180,"l":4030,"c":4130,"v":28,"r":47,"m":-60},{"d":"2021-12-13","o":4130,"h":4130,"l":3680,"c":3780,"v":56,"r":40,"m":-75},{"d":"2021-12-14","o":3780,"h":3890,"l":3640,"c":3860,"v":42,"r":42,"m":-75},{"d":"2021-12-15","o":3860,"h":4090,"l":3640,"c":4020,"v":58,"r":46,"m":-45},{"d":"2021-12-16","o":4020,"h":4100,"l":3950,"c":3960,"v":38,"r":45,"m":-50},{"d":"2021-12-17","o":3959.11,"h":3994.1,"l":3852,"c":3879.12,"v":16,"r":43,"m":-50}]
},
"data":{"name":"days"},
"layer":[
{"data":{"name":"months"},"mark":{"type":"rule","color":"#f0f3fa","size":1},"encoding":{"x":{"field":"d","type":"temporal","scale":{"type":"utc","domain":[1616176800000,1647630720000]}},"y":{"datum":5425,"type":"quantitative","scale":{"domain":[-1107.3,5441.6],"nice":false,"zero":false}},"y2":{"datum":-828}}},
{"data":{"name":"grid"},"transform":[{"calculate":"utc(2021,2,21)","as":"d"},{"calculate":"utc(2022,1,24)","as":"d2"}],"mark":{"type":"rule","color":"#f0f3fa","size":1},"encoding":{"x":{"field":"d","type":"temporal","scale":{"type":"utc","domain":[1616176800000,1647630720000]}},"x2":{"field":"d2"},"y":{"field":"p","type":"quantitative","scale":{"domain":[-1107.3,5441.6],"nice":false,"zero":false}}}},
{"data":{"name":"one"},"transform":[{"calculate":"utc(2021,2,21)","as":"d"},{"calculate":"utc(2022,1,24)","as":"d2"}],"mark":{"type":"rect","color":"#8e6bc2","opacity":0.11},"encoding":{"x":{"field":"d","type":"temporal","scale":{"type":"utc","domain":[1616176800000,1647630720000]}},"x2":{"field":"d2"},"y":{"datum":70,"type":"quantitative","scale":{"domain":[-79.9,595.5],"nice":false,"zero":false}},"y2":{"datum":30}}},
{"data":{"name":"vp"},"transform":[{"calculate":"0","as":"z"}],"mark":{"type":"rect","color":"#5caeea"},"encoding":{"x":{"field":"z","type":"quantitative","scale":{"domain":[1199,-81],"nice":false,"zero":false}},"x2":{"field":"buy"},"y":{"field":"hi","type":"quantitative","scale":{"domain":[-1107.3,5441.6],"nice":false,"zero":false}},"y2":{"field":"lo"},"opacity":{"condition":{"test":"datum.hi<3400&&datum.hi>1900","value":1},"value":0.35}}},
{"data":{"name":"vp"},"mark":{"type":"rect","color":"#fdd063"},"encoding":{"x":{"field":"buy","type":"quantitative","scale":{"domain":[1199,-81],"nice":false,"zero":false}},"x2":{"field":"total"},"y":{"field":"hi","type":"quantitative","scale":{"domain":[-1107.3,5441.6],"nice":false,"zero":false}},"y2":{"field":"lo"},"opacity":{"condition":{"test":"datum.hi<3400&&datum.hi>1900","value":1},"value":0.35}}},
{"mark":{"type":"bar","size":2.4,"opacity":0.5},"encoding":{"x":{"field":"d","type":"temporal","scale":{"type":"utc","domain":[1616176800000,1647630720000]}},"y":{"field":"v","type":"quantitative","stack":null,"scale":{"domain":[-561,1830],"nice":false,"zero":false}},"color":{"condition":{"test":"datum.c>=datum.o","value":"#26a69a"},"value":"#f25a5a"}}},
{"data":{"name":"bands"},"mark":{"type":"area","color":"#26a69a","opacity":0.07},"encoding":{"x":{"field":"d","type":"temporal","scale":{"type":"utc","domain":[1616176800000,1647630720000]}},"y":{"field":"ou","type":"quantitative","scale":{"domain":[-1107.3,5441.6],"nice":false,"zero":false}},"y2":{"field":"ol"}}},
{"data":{"name":"bands"},"mark":{"type":"area","color":"#26a69a","opacity":0.06},"encoding":{"x":{"field":"d","type":"temporal","scale":{"type":"utc","domain":[1616176800000,1647630720000]}},"y":{"field":"iu","type":"quantitative","scale":{"domain":[-1107.3,5441.6],"nice":false,"zero":false}},"y2":{"field":"il"}}},
{"mark":{"type":"rule","size":1,"opacity":0.55},"encoding":{"x":{"field":"d","type":"temporal","scale":{"type":"utc","domain":[1616176800000,1647630720000]}},"y":{"field":"l","type":"quantitative","scale":{"domain":[-1107.3,5441.6],"nice":false,"zero":false}},"y2":{"field":"h"},"color":{"condition":{"test":"datum.c>=datum.o","value":"#26a69a"},"value":"#f25a5a"}}},
{"mark":{"type":"bar","size":2.5},"encoding":{"x":{"field":"d","type":"temporal","scale":{"type":"utc","domain":[1616176800000,1647630720000]}},"y":{"field":"o","type":"quantitative","stack":null,"scale":{"domain":[-1107.3,5441.6],"nice":false,"zero":false}},"y2":{"field":"c"},"color":{"condition":{"test":"datum.c>=datum.o","value":"#26a69a"},"value":"#f25a5a"}}},
{"data":{"name":"bands"},"mark":{"type":"line","color":"#3f9f97","strokeWidth":1.5},"encoding":{"x":{"field":"d","type":"temporal","scale":{"type":"utc","domain":[1616176800000,1647630720000]}},"y":{"field":"ou","type":"quantitative","scale":{"domain":[-1107.3,5441.6],"nice":false,"zero":false}}}},
{"data":{"name":"bands"},"mark":{"type":"line","color":"#3f9f97","strokeWidth":1.5},"encoding":{"x":{"field":"d","type":"temporal","scale":{"type":"utc","domain":[1616176800000,1647630720000]}},"y":{"field":"ol","type":"quantitative","scale":{"domain":[-1107.3,5441.6],"nice":false,"zero":false}}}},
{"data":{"name":"bands"},"mark":{"type":"line","color":"#38889a","strokeWidth":1.5},"encoding":{"x":{"field":"d","type":"temporal","scale":{"type":"utc","domain":[1616176800000,1647630720000]}},"y":{"field":"iu","type":"quantitative","scale":{"domain":[-1107.3,5441.6],"nice":false,"zero":false}}}},
{"data":{"name":"bands"},"mark":{"type":"line","color":"#38889a","strokeWidth":1.5},"encoding":{"x":{"field":"d","type":"temporal","scale":{"type":"utc","domain":[1616176800000,1647630720000]}},"y":{"field":"il","type":"quantitative","scale":{"domain":[-1107.3,5441.6],"nice":false,"zero":false}}}},
{"data":{"name":"bands"},"mark":{"type":"line","color":"#8c3f3f","strokeWidth":1.5},"encoding":{"x":{"field":"d","type":"temporal","scale":{"type":"utc","domain":[1616176800000,1647630720000]}},"y":{"field":"mid","type":"quantitative","scale":{"domain":[-1107.3,5441.6],"nice":false,"zero":false}}}},
{"data":{"name":"mas"},"mark":{"type":"line","color":"#4ca6f0","strokeWidth":1.5},"encoding":{"x":{"field":"d","type":"temporal","scale":{"type":"utc","domain":[1616176800000,1647630720000]}},"detail":{"field":"n"},"y":{"field":"p","type":"quantitative","scale":{"domain":[-1107.3,5441.6],"nice":false,"zero":false}}}},
{"data":{"name":"levels"},"transform":[{"calculate":"utc(2021,2,21)","as":"d"},{"calculate":"utc(2022,1,24)","as":"d2"}],"mark":{"type":"rule","size":2},"encoding":{"x":{"field":"d","type":"temporal","scale":{"type":"utc","domain":[1616176800000,1647630720000]}},"x2":{"field":"d2"},"y":{"field":"price","type":"quantitative","scale":{"domain":[-1107.3,5441.6],"nice":false,"zero":false}},"color":{"condition":[{"test":"datum.k=='red'","value":"#ff0000"},{"test":"datum.k=='green'","value":"#33ee00"}],"value":"#1c202b"}}},
{"data":{"name":"trends"},"transform":[{"filter":"datum.k!='gray'"}],"mark":{"type":"line","strokeWidth":2},"encoding":{"x":{"field":"d","type":"temporal","scale":{"type":"utc","domain":[1616176800000,1647630720000]}},"detail":{"field":"id"},"y":{"field":"p","type":"quantitative","scale":{"domain":[-1107.3,5441.6],"nice":false,"zero":false}},"color":{"field":"k","type":"nominal","scale":{"domain":["black","red","green"],"range":["#222530","#ff2020","#62e22e"]}}}},
{"data":{"name":"trends"},"transform":[{"filter":"datum.k=='gray'"}],"mark":{"type":"line","strokeWidth":1,"color":"#8a8a8a"},"encoding":{"x":{"field":"d","type":"temporal","scale":{"type":"utc","domain":[1616176800000,1647630720000]}},"y":{"field":"p","type":"quantitative","scale":{"domain":[-1107.3,5441.6],"nice":false,"zero":false}}}},
{"data":{"name":"one"},"transform":[{"calculate":"utc(2021,2,21)","as":"d"},{"calculate":"utc(2022,1,24)","as":"d2"}],"mark":{"type":"rule","color":"#787b86","strokeDash":[4,4],"size":1},"encoding":{"x":{"field":"d","type":"temporal","scale":{"type":"utc","domain":[1616176800000,1647630720000]}},"x2":{"field":"d2"},"y":{"datum":70,"type":"quantitative","scale":{"domain":[-79.9,595.5],"nice":false,"zero":false}}}},
{"data":{"name":"one"},"transform":[{"calculate":"utc(2021,2,21)","as":"d"},{"calculate":"utc(2022,1,24)","as":"d2"}],"mark":{"type":"rule","color":"#787b86","strokeDash":[4,4],"size":1,"opacity":0.6},"encoding":{"x":{"field":"d","type":"temporal","scale":{"type":"utc","domain":[1616176800000,1647630720000]}},"x2":{"field":"d2"},"y":{"datum":50,"type":"quantitative","scale":{"domain":[-79.9,595.5],"nice":false,"zero":false}}}},
{"data":{"name":"one"},"transform":[{"calculate":"utc(2021,2,21)","as":"d"},{"calculate":"utc(2022,1,24)","as":"d2"}],"mark":{"type":"rule","color":"#787b86","strokeDash":[4,4],"size":1},"encoding":{"x":{"field":"d","type":"temporal","scale":{"type":"utc","domain":[1616176800000,1647630720000]}},"x2":{"field":"d2"},"y":{"datum":30,"type":"quantitative","scale":{"domain":[-79.9,595.5],"nice":false,"zero":false}}}},
{"mark":{"type":"line","color":"#8e6bc2","strokeWidth":1.5},"encoding":{"x":{"field":"d","type":"temporal","scale":{"type":"utc","domain":[1616176800000,1647630720000]}},"y":{"field":"r","type":"quantitative","scale":{"domain":[-79.9,595.5],"nice":false,"zero":false}}}},
{"transform":[{"window":[{"op":"lag","field":"m","as":"pm"}],"sort":[{"field":"d"}]}],"mark":{"type":"bar","size":2.4},"encoding":{"x":{"field":"d","type":"temporal","scale":{"type":"utc","domain":[1616176800000,1647630720000]}},"y":{"field":"m","type":"quantitative","stack":null,"scale":{"domain":[-229,2162],"nice":false,"zero":false}},"color":{"condition":[{"test":"datum.m>=0&&datum.m>=datum.pm","value":"#26a69a"},{"test":"datum.m>=0","value":"#b2dfdb"},{"test":"datum.m<datum.pm","value":"#ff5252"}],"value":"#ffcdd2"}}},
{"data":{"name":"macd"},"mark":{"type":"line","strokeWidth":1.5},"encoding":{"x":{"field":"d","type":"temporal","scale":{"type":"utc","domain":[1616176800000,1647630720000]}},"detail":{"field":"s"},"y":{"field":"u","type":"quantitative","scale":{"domain":[-229,2162],"nice":false,"zero":false}},"color":{"field":"n","type":"nominal","scale":{"domain":["m","o"],"range":["#5b7ff0","#f58a2a"]}}}},
{"data":{"name":"one"},"transform":[{"calculate":"1616176800000","as":"d"},{"calculate":"utc(2021,2,20,12)","as":"d2"}],"mark":{"type":"rect","color":"#e0e3eb"},"encoding":{"x":{"field":"d","type":"temporal","scale":{"type":"utc","domain":[1616176800000,1647630720000]}},"x2":{"field":"d2"}}},
{"data":{"name":"one"},"transform":[{"calculate":"utc(2022,1,24)","as":"d"}],"mark":{"type":"rule","color":"#e0e3eb","size":1},"encoding":{"x":{"field":"d","type":"temporal","scale":{"type":"utc","domain":[1616176800000,1647630720000]}},"y":{"datum":5425,"type":"quantitative","scale":{"domain":[-1107.3,5441.6],"nice":false,"zero":false}},"y2":{"datum":-1095}}},
{"data":{"name":"one"},"transform":[{"calculate":"utc(2021,2,20,12)","as":"d"},{"calculate":"utc(2022,2,18)","as":"d2"}],"mark":{"type":"rule","color":"#e0e3eb","size":2},"encoding":{"x":{"field":"d","type":"temporal","scale":{"type":"utc","domain":[1616176800000,1647630720000]}},"x2":{"field":"d2"},"y":{"datum":413,"type":"quantitative","scale":{"domain":[-1107.3,5441.6],"nice":false,"zero":false}}}},
{"data":{"name":"one"},"transform":[{"calculate":"utc(2021,2,20,12)","as":"d"},{"calculate":"utc(2022,2,18)","as":"d2"}],"mark":{"type":"rule","color":"#e0e3eb","size":2},"encoding":{"x":{"field":"d","type":"temporal","scale":{"type":"utc","domain":[1616176800000,1647630720000]}},"x2":{"field":"d2"},"y":{"datum":-179,"type":"quantitative","scale":{"domain":[-1107.3,5441.6],"nice":false,"zero":false}}}},
{"data":{"name":"one"},"transform":[{"calculate":"utc(2021,2,20,12)","as":"d"},{"calculate":"utc(2022,2,18)","as":"d2"}],"mark":{"type":"rule","color":"#e0e3eb","size":2},"encoding":{"x":{"field":"d","type":"temporal","scale":{"type":"utc","domain":[1616176800000,1647630720000]}},"x2":{"field":"d2"},"y":{"datum":-828,"type":"quantitative","scale":{"domain":[-1107.3,5441.6],"nice":false,"zero":false}}}},
{"data":{"name":"labels"},"transform":[{"filter":"datum.g=='title'"}],"mark":{"type":"text","align":"left","baseline":"middle","fontSize":19,"color":"#131722"},"encoding":{"x":{"field":"d","type":"temporal","scale":{"type":"utc","domain":[1616176800000,1647630720000]}},"y":{"field":"p","type":"quantitative","scale":{"domain":[-1107.3,5441.6],"nice":false,"zero":false}},"text":{"field":"t"}}},
{"data":{"name":"labels"},"transform":[{"filter":"datum.g=='dot'"}],"mark":{"type":"text","align":"left","baseline":"middle","fontSize":14,"color":"#787b86"},"encoding":{"x":{"field":"d","type":"temporal","scale":{"type":"utc","domain":[1616176800000,1647630720000]}},"y":{"field":"p","type":"quantitative","scale":{"domain":[-1107.3,5441.6],"nice":false,"zero":false}},"text":{"field":"t"}}},
{"data":{"name":"one"},"transform":[{"calculate":"utc(2021,2,23,12)","as":"d"},{"calculate":"utc(2021,3,3)","as":"d2"}],"mark":{"type":"rect","fill":"#ffffff","stroke":"#e0e3eb","cornerRadius":3},"encoding":{"x":{"field":"d","type":"temporal","scale":{"type":"utc","domain":[1616176800000,1647630720000]}},"x2":{"field":"d2"},"y":{"datum":5105,"type":"quantitative","scale":{"domain":[-1107.3,5441.6],"nice":false,"zero":false}},"y2":{"datum":4907}}},
{"data":{"name":"labels"},"transform":[{"filter":"datum.g=='stat'"}],"mark":{"type":"text","align":"left","baseline":"middle","fontSize":14,"color":"#434651"},"encoding":{"x":{"field":"d","type":"temporal","scale":{"type":"utc","domain":[1616176800000,1647630720000]}},"y":{"field":"p","type":"quantitative","scale":{"domain":[-1107.3,5441.6],"nice":false,"zero":false}},"text":{"field":"t"}}},
{"data":{"name":"labels"},"transform":[{"filter":"datum.g=='val'"}],"mark":{"type":"text","align":"left","baseline":"middle","fontSize":14,"color":"#ef5350"},"encoding":{"x":{"field":"d","type":"temporal","scale":{"type":"utc","domain":[1616176800000,1647630720000]}},"y":{"field":"p","type":"quantitative","scale":{"domain":[-1107.3,5441.6],"nice":false,"zero":false}},"text":{"field":"t"}}},
{"data":{"name":"one"},"transform":[{"calculate":"utc(2021,5,28)","as":"d"}],"mark":{"type":"point","shape":"M-1,-1 L1,-1 L0.4,0 L1,1 L-1,1 Z","size":196,"filled":true,"color":"#ff5252","opacity":1},"encoding":{"x":{"field":"d","type":"temporal","scale":{"type":"utc","domain":[1616176800000,1647630720000]}},"y":{"datum":5261,"type":"quantitative","scale":{"domain":[-1107.3,5441.6],"nice":false,"zero":false}}}},
{"data":{"name":"one"},"transform":[{"calculate":"utc(2021,6,10)","as":"d"}],"mark":{"type":"point","shape":"circle","size":380,"filled":true,"color":"#26a69a","opacity":0.15},"encoding":{"x":{"field":"d","type":"temporal","scale":{"type":"utc","domain":[1616176800000,1647630720000]}},"y":{"datum":5261,"type":"quantitative","scale":{"domain":[-1107.3,5441.6],"nice":false,"zero":false}}}},
{"data":{"name":"one"},"transform":[{"calculate":"utc(2021,6,10)","as":"d"}],"mark":{"type":"point","shape":"circle","size":78,"filled":true,"color":"#149a85","opacity":1},"encoding":{"x":{"field":"d","type":"temporal","scale":{"type":"utc","domain":[1616176800000,1647630720000]}},"y":{"datum":5261,"type":"quantitative","scale":{"domain":[-1107.3,5441.6],"nice":false,"zero":false}}}},
{"data":{"name":"one"},"transform":[{"calculate":"utc(2021,2,28)","as":"d"}],"mark":{"type":"point","shape":"M-1,-0.5 L0,0.5 L1,-0.5","size":36,"filled":false,"color":"#131722","strokeWidth":1.5,"opacity":1},"encoding":{"x":{"field":"d","type":"temporal","scale":{"type":"utc","domain":[1616176800000,1647630720000]}},"y":{"datum":5006,"type":"quantitative","scale":{"domain":[-1107.3,5441.6],"nice":false,"zero":false}}}},
{"data":{"name":"months"},"transform":[{"filter":"datum.t!='2022'"}],"mark":{"type":"text","align":"center","baseline":"middle","fontSize":13,"color":"#131722"},"encoding":{"x":{"field":"d","type":"temporal","scale":{"type":"utc","domain":[1616176800000,1647630720000]}},"y":{"datum":-976,"type":"quantitative","scale":{"domain":[-1107.3,5441.6],"nice":false,"zero":false}},"text":{"field":"t"}}},
{"data":{"name":"months"},"transform":[{"filter":"datum.t=='2022'"}],"mark":{"type":"text","align":"center","baseline":"middle","fontSize":13,"fontWeight":"bold","color":"#131722"},"encoding":{"x":{"field":"d","type":"temporal","scale":{"type":"utc","domain":[1616176800000,1647630720000]}},"y":{"datum":-976,"type":"quantitative","scale":{"domain":[-1107.3,5441.6],"nice":false,"zero":false}},"text":{"field":"t"}}},
{"data":{"name":"one"},"transform":[{"calculate":"utc(2022,2,7)","as":"d"}],"mark":{"type":"text","align":"center","baseline":"middle","fontSize":24,"font":"DejaVu Sans","color":"#131722","text":"☼"},"encoding":{"x":{"field":"d","type":"temporal","scale":{"type":"utc","domain":[1616176800000,1647630720000]}},"y":{"datum":-976,"type":"quantitative","scale":{"domain":[-1107.3,5441.6],"nice":false,"zero":false}}}},
{"data":{"name":"grid"},"transform":[{"filter":"indexof([5200,4400,2800,1600,1200,800],datum.p)>=0"},{"calculate":"utc(2022,1,27)","as":"d"}],"mark":{"type":"text","align":"left","baseline":"middle","fontSize":13.5,"color":"#434651"},"encoding":{"x":{"field":"d","type":"temporal","scale":{"type":"utc","domain":[1616176800000,1647630720000]}},"y":{"field":"p","type":"quantitative","scale":{"domain":[-1107.3,5441.6],"nice":false,"zero":false}},"text":{"field":"p","format":".2f"}}},
{"data":{"name":"one"},"transform":[{"calculate":"utc(2022,1,27)","as":"d"}],"mark":{"type":"text","align":"left","baseline":"middle","fontSize":13.5,"color":"#434651","text":"40.00"},"encoding":{"x":{"field":"d","type":"temporal","scale":{"type":"utc","domain":[1616176800000,1647630720000]}},"y":{"datum":40,"type":"quantitative","scale":{"domain":[-79.9,595.5],"nice":false,"zero":false}}}},
{"data":{"name":"one"},"transform":[{"calculate":"utc(2022,1,27)","as":"d"}],"mark":{"type":"text","align":"left","baseline":"middle","fontSize":13.5,"color":"#434651","text":"0.00"},"encoding":{"x":{"field":"d","type":"temporal","scale":{"type":"utc","domain":[1616176800000,1647630720000]}},"y":{"datum":0,"type":"quantitative","scale":{"domain":[-229,2162],"nice":false,"zero":false}}}},
{"data":{"name":"levels"},"transform":[{"calculate":"utc(2022,1,24)","as":"d"},{"calculate":"utc(2022,2,16)","as":"d2"}],"mark":{"type":"rect","height":21,"cornerRadius":2},"encoding":{"x":{"field":"d","type":"temporal","scale":{"type":"utc","domain":[1616176800000,1647630720000]}},"x2":{"field":"d2"},"y":{"field":"tag","type":"quantitative","scale":{"domain":[-1107.3,5441.6],"nice":false,"zero":false}},"color":{"condition":[{"test":"datum.k=='red'","value":"#ff0000"},{"test":"datum.k=='green'","value":"#33ff00"},{"test":"datum.price==4868.87","value":"#000000"},{"test":"datum.price==1736.87","value":"#2f333e"}],"value":"#131722"}}},
{"data":{"name":"levels"},"transform":[{"calculate":"utc(2022,1,27)","as":"d"}],"mark":{"type":"text","align":"left","baseline":"middle","fontSize":13.5},"encoding":{"x":{"field":"d","type":"temporal","scale":{"type":"utc","domain":[1616176800000,1647630720000]}},"y":{"field":"tag","type":"quantitative","scale":{"domain":[-1107.3,5441.6],"nice":false,"zero":false}},"text":{"field":"price","format":".2f"},"color":{"condition":{"test":"datum.k=='green'","value":"#000000"},"value":"#ffffff"}}},
{"data":{"name":"one"},"transform":[{"calculate":"utc(2022,1,3)","as":"d"},{"calculate":"utc(2022,1,24)","as":"d2"}],"mark":{"type":"rect","color":"#f05a5a","cornerRadius":2},"encoding":{"x":{"field":"d","type":"temporal","scale":{"type":"utc","domain":[1616176800000,1647630720000]}},"x2":{"field":"d2"},"y":{"datum":3963,"type":"quantitative","scale":{"domain":[-1107.3,5441.6],"nice":false,"zero":false}},"y2":{"datum":3798}}},
{"data":{"name":"one"},"transform":[{"calculate":"utc(2022,1,24)","as":"d"},{"calculate":"utc(2022,2,17)","as":"d2"}],"mark":{"type":"rect","color":"#f05a5a","cornerRadius":2},"encoding":{"x":{"field":"d","type":"temporal","scale":{"type":"utc","domain":[1616176800000,1647630720000]}},"x2":{"field":"d2"},"y":{"datum":3963,"type":"quantitative","scale":{"domain":[-1107.3,5441.6],"nice":false,"zero":false}},"y2":{"datum":3659}}},
{"data":{"name":"one"},"transform":[{"calculate":"utc(2022,1,5)","as":"d"}],"mark":{"type":"text","align":"left","baseline":"middle","fontSize":13.5,"color":"#ffffff","text":"ETHUSDT"},"encoding":{"x":{"field":"d","type":"temporal","scale":{"type":"utc","domain":[1616176800000,1647630720000]}},"y":{"datum":3876,"type":"quantitative","scale":{"domain":[-1107.3,5441.6],"nice":false,"zero":false}}}},
{"data":{"name":"one"},"transform":[{"calculate":"utc(2022,1,27)","as":"d"}],"mark":{"type":"text","align":"left","baseline":"middle","fontSize":13.5,"color":"#ffffff","text":"3879.12"},"encoding":{"x":{"field":"d","type":"temporal","scale":{"type":"utc","domain":[1616176800000,1647630720000]}},"y":{"datum":3876,"type":"quantitative","scale":{"domain":[-1107.3,5441.6],"nice":false,"zero":false}}}},
{"data":{"name":"one"},"transform":[{"calculate":"utc(2022,1,27)","as":"d"}],"mark":{"type":"text","align":"left","baseline":"middle","fontSize":13.5,"color":"#ffc9c9","text":"14:06:00"},"encoding":{"x":{"field":"d","type":"temporal","scale":{"type":"utc","domain":[1616176800000,1647630720000]}},"y":{"datum":3741,"type":"quantitative","scale":{"domain":[-1107.3,5441.6],"nice":false,"zero":false}}}},
{"data":{"name":"one"},"transform":[{"calculate":"utc(2022,2,1)","as":"d"},{"calculate":"utc(2022,2,14)","as":"d2"}],"mark":{"type":"rect","fill":"#ffffff","stroke":"#e0e3eb","cornerRadius":3},"encoding":{"x":{"field":"d","type":"temporal","scale":{"type":"utc","domain":[1616176800000,1647630720000]}},"x2":{"field":"d2"},"y":{"datum":5368,"type":"quantitative","scale":{"domain":[-1107.3,5441.6],"nice":false,"zero":false}},"y2":{"datum":5162}}},
{"data":{"name":"one"},"transform":[{"calculate":"utc(2022,2,3)","as":"d"}],"mark":{"type":"text","align":"left","baseline":"middle","fontSize":13,"color":"#131722","text":"USDT"},"encoding":{"x":{"field":"d","type":"temporal","scale":{"type":"utc","domain":[1616176800000,1647630720000]}},"y":{"datum":5265,"type":"quantitative","scale":{"domain":[-1107.3,5441.6],"nice":false,"zero":false}}}}
]}
